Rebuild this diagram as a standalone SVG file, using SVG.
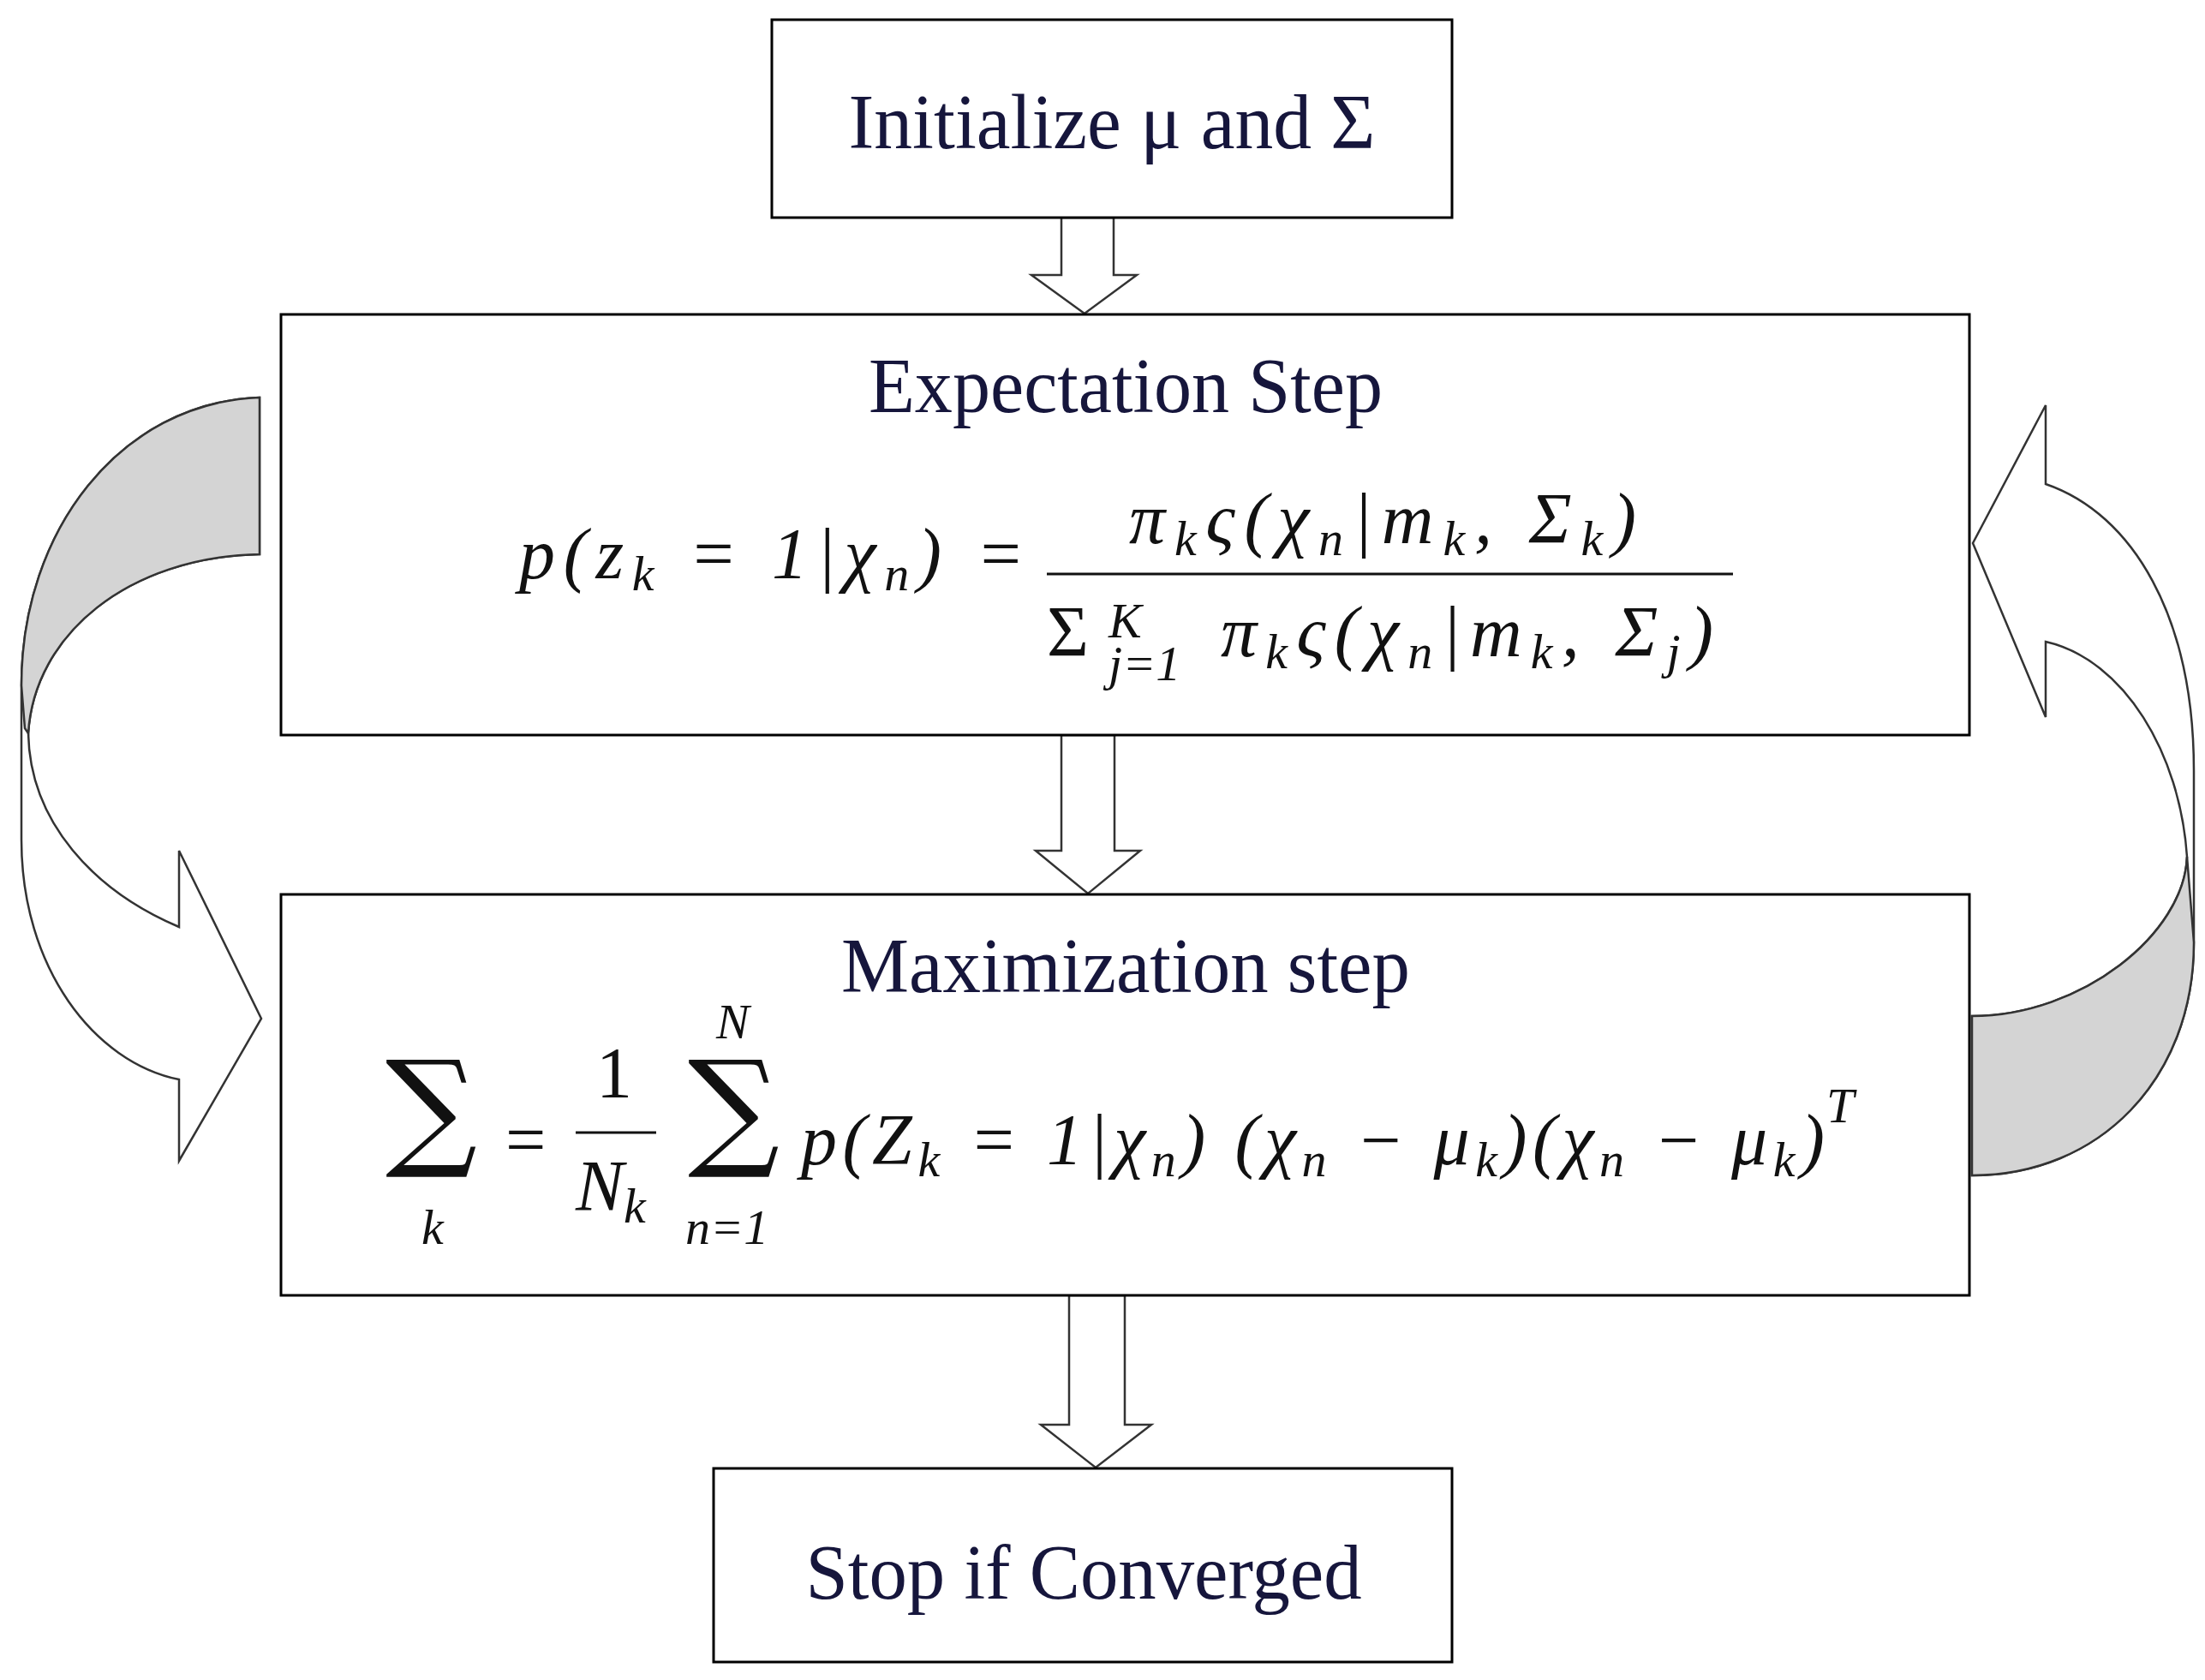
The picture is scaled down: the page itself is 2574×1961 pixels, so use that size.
<svg xmlns="http://www.w3.org/2000/svg" width="2574" height="1961" viewBox="0 0 2574 1961">
<style>
.box{fill:#fff;stroke:#000;stroke-width:3}
.blk{fill:#fff;stroke:#333;stroke-width:2.5}
.gray{fill:#d4d4d4;stroke:#333;stroke-width:2.5}
.t{font-family:"Liberation Serif",serif;font-size:90px;fill:#16163c;text-anchor:middle}
.m{font-family:"Liberation Serif",serif;font-style:italic;font-size:84px;fill:#111}
.r{font-family:"Liberation Serif",serif;font-size:84px;fill:#111}
.s{font-size:58px}
.big{font-family:"DejaVu Serif",serif;font-size:150px;fill:#111}
</style>
<rect width="2574" height="1961" fill="#fff"/>
<g id="connectors">
<path class="blk" d="M1239,254 L1300,254 L1300,321 L1327,321 L1266,366 L1204,321 L1239,321 Z"/>
<path class="blk" d="M1239,858 L1301,858 L1301,993 L1331,993 L1270,1043 L1209,993 L1239,993 Z"/>
<path class="blk" d="M1248,1512 L1313,1512 L1313,1663 L1344,1663 L1279,1713 L1215,1663 L1248,1663 Z"/>
<path class="blk" d="M303,464 C140,470 25,620 25,800 L25,980 C25,1130 110,1240 209,1260 L209,1355 L305,1189 L209,993 L209,1082 C110,1040 35,960 33,856 C40,740 150,650 303,647 Z"/>
<path class="gray" d="M303,464 C140,470 25,620 25,800 L29,850 L33,856 C40,740 150,650 303,647 Z"/>
<path class="blk" d="M2388,565 C2490,600 2561,720 2561,900 L2561,1100 C2561,1260 2450,1372 2302,1372 L2302,1186 C2430,1186 2550,1090 2553,1000 C2545,880 2480,770 2388,749 L2388,837 L2303,634 L2388,473 Z"/>
<path class="gray" d="M2302,1372 C2450,1372 2561,1260 2561,1100 L2553,1000 C2550,1090 2430,1186 2302,1186 Z"/>
</g>
<g id="init">
<rect class="box" x="901" y="23" width="794" height="231"/>
<text class="t" x="1298" y="173" textLength="615" lengthAdjust="spacingAndGlyphs">Initialize μ and Σ</text>
</g>
<g id="expectation">
<rect class="box" x="328" y="367" width="1971" height="491"/>
<text class="t" x="1314" y="481" textLength="600" lengthAdjust="spacingAndGlyphs">Expectation Step</text>
<text class="m" x="606" y="675" textLength="590">p(z<tspan class="s" dy="14">k</tspan><tspan class="r" dy="-14"> = 1|</tspan>χ<tspan class="s" dy="14">n</tspan><tspan class="r" dy="-14">) =</tspan></text>
<text class="m" x="1318" y="634" textLength="592">π<tspan class="s" dy="14">k</tspan><tspan dy="-14">ς(χ</tspan><tspan class="s" dy="14">n</tspan><tspan class="r" dy="-14">|</tspan>m<tspan class="s" dy="14">k</tspan><tspan dy="-14">, </tspan><tspan class="r">Σ</tspan><tspan class="s" dy="14">k</tspan><tspan class="r" dy="-14">)</tspan></text>
<line x1="1222" y1="670" x2="2023" y2="670" stroke="#111" stroke-width="3"/>
<text class="r" x="1222" y="766">Σ</text>
<text class="m s" x="1294" y="744">K</text>
<text class="m s" x="1294" y="794">j<tspan class="r s">=1</tspan></text>
<text class="m" x="1425" y="766" textLength="575">π<tspan class="s" dy="14">k</tspan><tspan dy="-14">ς(χ</tspan><tspan class="s" dy="14">n</tspan><tspan class="r" dy="-14">|</tspan>m<tspan class="s" dy="14">k</tspan><tspan dy="-14">, </tspan><tspan class="r">Σ</tspan><tspan class="s" dy="14">j</tspan><tspan class="r" dy="-14">)</tspan></text>
</g>
<g id="maximization">
<rect class="box" x="328" y="1044" width="1971" height="468"/>
<text class="t" x="1314" y="1158" textLength="664" lengthAdjust="spacingAndGlyphs">Maximization step</text>
<text class="big" x="450" y="1345">∑</text>
<text class="m s" x="492" y="1452">k</text>
<text class="r" x="590" y="1359">=</text>
<text class="r" x="696" y="1281">1</text>
<line x1="672" y1="1322" x2="766" y2="1322" stroke="#111" stroke-width="3"/>
<text class="m" x="672" y="1413">N<tspan class="s" dy="14">k</tspan></text>
<text class="big" x="803" y="1345">∑</text>
<text class="m s" x="836" y="1212">N</text>
<text class="m s" x="800" y="1452">n<tspan class="r s">=1</tspan></text>
<text class="m" x="935" y="1359" textLength="1195">p(Z<tspan class="s" dy="14">k</tspan><tspan class="r" dy="-14"> = 1|</tspan>χ<tspan class="s" dy="14">n</tspan><tspan class="r" dy="-14">) (</tspan>χ<tspan class="s" dy="14">n</tspan><tspan class="r" dy="-14"> − </tspan>μ<tspan class="s" dy="14">k</tspan><tspan class="r" dy="-14">)(</tspan>χ<tspan class="s" dy="14">n</tspan><tspan class="r" dy="-14"> − </tspan>μ<tspan class="s" dy="14">k</tspan><tspan class="r" dy="-14">)</tspan></text>
<text class="m s" x="2132" y="1310">T</text>
</g>
<g id="stop">
<rect class="box" x="833" y="1714" width="862" height="226"/>
<text class="t" x="1265" y="1866" textLength="649" lengthAdjust="spacingAndGlyphs">Stop if Converged</text>
</g>
</svg>
